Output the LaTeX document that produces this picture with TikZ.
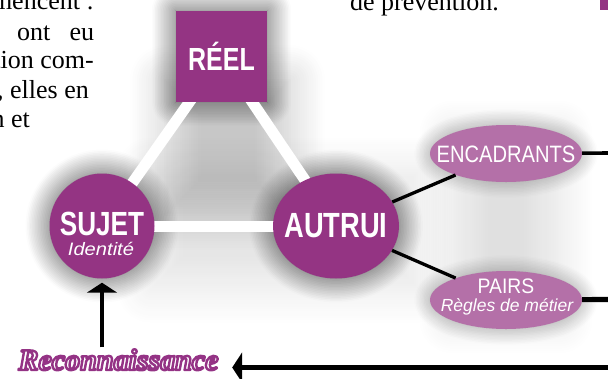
\documentclass[tikz,border=0pt]{standalone}
\usepackage{fontspec}
\setmainfont{Liberation Serif}
\newfontfamily\headfont[FakeStretch=0.78]{Liberation Sans}
\newfontfamily\encfont[FakeStretch=0.85]{Liberation Sans}
\newfontfamily\pairsfont[FakeStretch=0.92]{Liberation Sans}
\newfontfamily\idfont[FakeStretch=1.12]{Liberation Sans}
\newfontfamily\regfont{Liberation Sans}
\usetikzlibrary{arrows.meta,shadows.blur,shapes.geometric}
\pgfdeclarelayer{bglayer}
\pgfdeclarelayer{shadowlayer}
\pgfdeclarelayer{linelayer}
\pgfsetlayers{bglayer,shadowlayer,linelayer,main}
\definecolor{mainpurple}{RGB}{148,52,131}
\definecolor{lightpurple}{RGB}{180,112,168}
\newcommand{\outlinedtext}[1]{\special{pdf:literal direct 1 j 2 Tr 2.4 w 0.58 0.20 0.52 RG}#1\special{pdf:literal direct 0 Tr}}
\tikzset{
  bigshadow/.style={blur shadow={shadow xshift=0pt,shadow yshift=0pt,shadow blur radius=24pt,shadow blur steps=16,shadow opacity=70}},
  smallshadow/.style={blur shadow={shadow xshift=0pt,shadow yshift=0pt,shadow blur radius=16pt,shadow blur steps=12,shadow opacity=35}},
  softshadow/.style={blur shadow={shadow xshift=0pt,shadow yshift=0pt,shadow blur radius=35pt,shadow blur steps=16,shadow opacity=#1}},
  mainshape/.style={fill=mainpurple, draw=none, inner sep=0pt, text=white},
  sideshape/.style={ellipse, fill=lightpurple, draw=none, inner sep=0pt, text=white},
  whitebar/.style={white, line width=11pt},
  blackline/.style={black, line width=3.3pt},
  bigarrow/.style={black, line width=4.5pt, -{Triangle[length=10pt,width=30pt]}},
  bodytext/.style={font=\fontsize{26}{29}\selectfont, inner sep=0pt, text=black},
  headfontstyle/.style={font=\headfont\bfseries\fontsize{#1}{#1}\selectfont},
}
\begin{document}
\begin{tikzpicture}[x=1pt,y=-1pt]
\useasboundingbox (0,0) rectangle (608,378);
\begin{pgfonlayer}{bglayer}
\fill[white] (0,0) rectangle (608,378);
\end{pgfonlayer}

% main shapes with their labels
\node[mainshape, rectangle, minimum width=91pt, minimum height=91pt,
      headfontstyle=32, text height=27pt, text depth=0pt] (reel) at (221.5,56.5) {RÉEL};
\node[mainshape, circle, minimum size=105pt,
      headfontstyle=33.5, text height=18pt, text depth=0pt] (sujet) at (102,226) {SUJET};
\node[mainshape, ellipse, minimum width=126pt, minimum height=105pt, inner xsep=-8pt,
      headfontstyle=35, text height=22pt, text depth=0pt] (autrui) at (336,226) {AUTRUI};
\node[sideshape, minimum width=152pt, minimum height=57pt, inner xsep=-18pt,
      font=\encfont\fontsize{23.7}{24}\selectfont, text height=17pt, text depth=0pt] (enc) at (506,153.5) {ENCADRANTS};
\node[sideshape, minimum width=152pt, minimum height=58pt,
      font=\pairsfont\fontsize{21}{22}\selectfont, text height=0pt, text depth=14pt] (pairs) at (506,300) {PAIRS};

\node[anchor=base, inner sep=0pt, text=white, font=\idfont\itshape\fontsize{18}{19}\selectfont] (ident) at (101,255) {Identité};
\node[anchor=base, inner sep=0pt, text=white, font=\regfont\itshape\fontsize{17.5}{18}\selectfont] (regles) at (507,311) {Règles de métier};

\node[anchor=base, inner sep=0pt, text=white, font=\bfseries\itshape\fontsize{30}{32}\selectfont] (recon) at (118.5,370) {\outlinedtext{Reconnaissance}};

% free ends
\coordinate (encend) at (612,153);
\coordinate (pairsend) at (612,299.5);
\coordinate (arrowstart) at (612,367.5);

% shadows
\begin{pgfonlayer}{shadowlayer}
\path[softshadow=10] (-400,-400) rectangle (-300,-300);
\path[softshadow=22] (165,80) rectangle (290,215);
\path[softshadow=10] (150,170) rectangle (420,290);
\path[softshadow=12] (enc.north west) rectangle (pairs.south east);
\path[bigshadow] (reel.south west) rectangle (reel.north east);
\path[bigshadow] (sujet.center) circle[radius=52.5];
\path[bigshadow] (autrui.center) ellipse[x radius=63, y radius=52.5];
\path[smallshadow] (enc.center) ellipse[x radius=76, y radius=28.5];
\path[smallshadow] (pairs.center) ellipse[x radius=76, y radius=29];
\end{pgfonlayer}

% white triangle bars
\begin{pgfonlayer}{linelayer}
\draw[whitebar] (reel.center) -- (sujet.center);
\draw[whitebar] (reel.center) -- (autrui.center);
\draw[whitebar] (sujet.center) -- (autrui.center);
\end{pgfonlayer}

% black connectors
\draw[blackline] (autrui) -- (enc);
\draw[blackline] (autrui) -- (pairs);
\draw[black, line width=3.6pt] (enc) -- (encend);
\draw[black, line width=5.2pt] (pairs) -- (pairsend);
\draw[bigarrow, shorten <=1.5pt, shorten >=4pt] (recon.north -| sujet.south) -- (sujet.south);
\draw[bigarrow, shorten >=13.5pt] (arrowstart) -- (recon.east |- arrowstart);

% surrounding body text
\node[bodytext, anchor=base east] (t1) at (94,9) {mencent~:};
\node[bodytext, anchor=base west] (t2) at (17,40) {\hbox to 77pt{ont\hfill eu}};
\node[bodytext, anchor=base east] (t3) at (94,68) {tion com-};
\node[bodytext, anchor=base east] (t4) at (89,98) {t, elles en};
\node[bodytext, anchor=base east] (t5) at (30,127) {n et};
\node[bodytext, anchor=base west] (t6) at (350,10) {de prévention.};
\node[fill=mainpurple, minimum width=8pt, minimum height=10pt, inner sep=0pt, anchor=north east] (corner) at (608,0) {};
\end{tikzpicture}
\end{document}
